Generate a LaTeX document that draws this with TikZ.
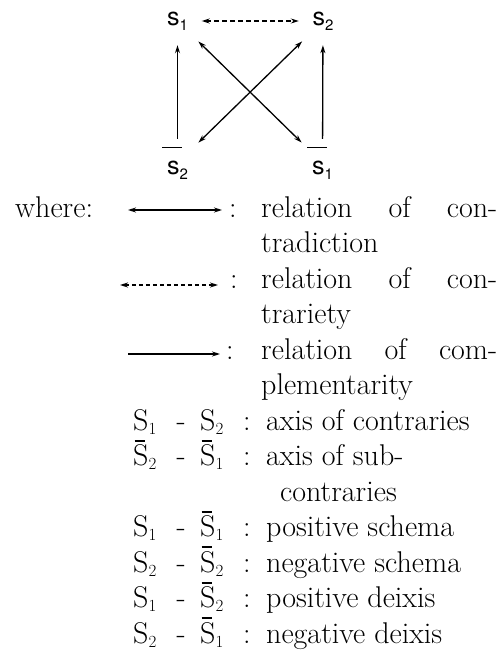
\documentclass[tikz,border=0pt]{standalone}
\usepackage{fontspec}
\newfontfamily\hel{TeX Gyre Heros}
\usetikzlibrary{arrows.meta}
\newcommand\slab[1]{s\raisebox{-5pt}{\fontsize{15}{15}\selectfont #1}}
\newcommand\slabbar[1]{\rlap{\kern-5pt\raisebox{26pt}{\rule{20pt}{1.6pt}}}\slab{#1}}
\newcommand\Sub[1]{\raisebox{-4pt}{\fontsize{17}{17}\selectfont #1}}
\newcommand\Sx[1]{S\Sub{#1}}
\newcommand\Sbx[1]{\rlap{\kern1.5pt\raisebox{24pt}{\rule{10pt}{1.6pt}}}S\Sub{#1}}
\newcommand\pair[2]{\makebox[29pt][l]{#1}\makebox[38pt][c]{-}#2}
\begin{document}
\begin{tikzpicture}[x=1pt,y=-1pt,
  lbl/.style={font=\hel\fontsize{25}{25}\selectfont, circle, minimum size=48pt, inner sep=0pt},
  tipp/.style={-{Stealth[length=8pt,width=5pt]}},
  tipb/.style={{Stealth[length=8pt,width=5pt]}-{Stealth[length=8pt,width=5pt]}},
  ln/.style={line width=1.3pt},
  txt/.style={anchor=base west, inner sep=0pt, font=\fontsize{30}{35.5}\selectfont}]
\useasboundingbox (0,0) rectangle (501,653);
% square diagram
\node[lbl] (s1)  at (177.5,21) {\slab{1}};
\node[lbl] (s2)  at (323,21)   {\slab{2}};
\node[lbl] (ns2) at (177.5,163) {\slabbar{2}};
\node[lbl] (ns1) at (322.5,163) {\slabbar{1}};
\draw[ln,tipb,dash pattern=on 5pt off 3pt] (s1) -- (s2);
\draw[ln,tipp] (ns2) -- (s1);
\draw[ln,tipp] (ns1) -- (s2);
\draw[ln,tipb,shorten <=5pt,shorten >=5pt] (s1) -- (ns1);
\draw[ln,tipb,shorten <=5pt,shorten >=5pt] (s2) -- (ns2);
% legend
\node[txt] (where) at (15,217) {where:};
\coordinate (a0l) at (128,210);
\coordinate (a0r) at (222,210);
\draw[line width=1.2pt,tipb] (a0l) -- (a0r);
\node[txt] (c0) at (229,217) {:};
\node[txt] (t0) at (261,217) {\makebox[236pt][s]{relation of con-}};
\node[txt] (t1) at (261,252.5) {tradiction};
\coordinate (a2l) at (120,285);
\coordinate (a2r) at (218,285);
\draw[line width=1.2pt,tipb,dash pattern=on 4pt off 3pt] (a2l) -- (a2r);
\node[txt] (c2) at (230,288) {:};
\node[txt] (t2) at (261,288) {\makebox[236pt][s]{relation of con-}};
\node[txt] (t3) at (261,323.5) {trariety};
\coordinate (a4l) at (128,354);
\coordinate (a4r) at (220,354);
\draw[line width=1.2pt,tipp] (a4l) -- (a4r);
\node[txt] (c4) at (226,359) {:};
\node[txt] (t4) at (261,359) {\makebox[236pt][s]{relation of com-}};
\node[txt] (t5) at (261,394.5) {plementarity};
\node[txt] (p6) at (133,430) {\pair{\Sx{1}}{\Sx{2}}};
\node[txt] (c6) at (243,430) {:};
\node[txt] (t6) at (266,430) {axis of contraries};
\node[txt] (p7) at (133,465.5) {\pair{\Sbx{2}}{\Sbx{1}}};
\node[txt] (c7) at (243,465.5) {:};
\node[txt] (t7) at (266,465.5) {axis of sub-};
\node[txt] (t8) at (280,501) {contraries};
\node[txt] (p9) at (133,536.5) {\pair{\Sx{1}}{\Sbx{1}}};
\node[txt] (c9) at (243,536.5) {:};
\node[txt] (t9) at (266,536.5) {positive schema};
\node[txt] (p10) at (133,572) {\pair{\Sx{2}}{\Sbx{2}}};
\node[txt] (c10) at (243,572) {:};
\node[txt] (t10) at (266,572) {negative schema};
\node[txt] (p11) at (133,607.5) {\pair{\Sx{1}}{\Sbx{2}}};
\node[txt] (c11) at (243,607.5) {:};
\node[txt] (t11) at (266,607.5) {positive deixis};
\node[txt] (p12) at (133,643) {\pair{\Sx{2}}{\Sbx{1}}};
\node[txt] (c12) at (243,643) {:};
\node[txt] (t12) at (266,643) {negative deixis};
\end{tikzpicture}
\end{document}
